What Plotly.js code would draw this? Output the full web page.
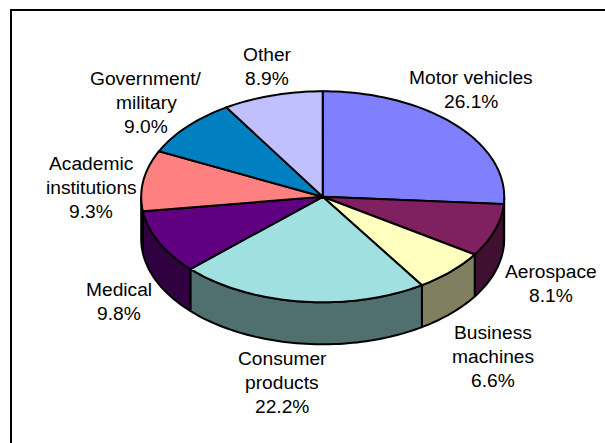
<!DOCTYPE html>
<html>
<head>
<meta charset="utf-8">
<script src="https://cdn.plot.ly/plotly-3.0.1.min.js"></script>
<style>html,body{margin:0;padding:0;background:#fff;overflow:hidden}#c{width:605px;height:443px}</style>
</head>
<body>
<div id="c"></div>
<script>
// Data
var categories = ["Motor vehicles","Aerospace","Business machines","Consumer products","Medical","Academic institutions","Government/ military","Other"];
var shares = [26.1, 8.1, 6.6, 22.2, 9.8, 9.3, 9.0, 8.9];
var topColors = ["#8080FF","#802060","#FFFFC0","#A0E0E0","#600080","#FF8080","#0080C0","#C0C0FF"];
var sideColors = ["#404080","#401030","#808060","#507070","#300040","#804040","#004060","#606080"];

// Label layout: how each category name wraps, plus centre x / first-line y
var labelLines = [["Motor vehicles"],["Aerospace"],["Business","machines"],["Consumer","products"],["Medical"],["Academic","institutions"],["Government/","military"],["Other"]];
var labelX = [470.5, 551, 493, 282, 119, 91, 146, 267];
var labelY = [77, 271, 332, 358, 289, 163, 78, 54];

var CX = 322.7, CY = 196.8, RX = 181.5, RY = 105.5, DEPTH = 42, LINE_H = 24.2;

function arc(a0, a1, dy) {
  var n = Math.max(2, Math.ceil((a1 - a0) / 1.5)), xs = [], ys = [];
  for (var i = 0; i <= n; i++) {
    var t = (a0 + (a1 - a0) * i / n) * Math.PI / 180;
    xs.push(CX + RX * Math.sin(t));
    ys.push(CY - RY * Math.cos(t) + dy);
  }
  return {x: xs, y: ys};
}
function poly(x, y, color) {
  return {type:"scatter", mode:"lines", x:x, y:y, fill:"toself", fillcolor:color,
          line:{color:"#000", width:2, simplify:false}, hoverinfo:"skip", showlegend:false};
}

var total = shares.reduce(function(a,b){return a+b;},0), traces = [], tops = [], ann = [], cum = 0;
shares.forEach(function(v, i) {
  var a0 = cum / total * 360, a1 = (cum + v) / total * 360;
  cum += v;
  var s0 = Math.max(a0, 90), s1 = Math.min(a1, 270);
  if (s1 > s0) {
    var up = arc(s0, s1, 0), low = arc(s0, s1, DEPTH);
    traces.push(poly(up.x.concat(low.x.slice().reverse(), up.x[0]),
                     up.y.concat(low.y.slice().reverse(), up.y[0]), sideColors[i]));
  }
  var t = arc(a0, a1, 0);
  tops.push(poly([CX].concat(t.x, CX), [CY].concat(t.y, CY), topColors[i]));
  labelLines[i].concat(v.toFixed(1) + "%").forEach(function(txt, k) {
    ann.push({x:labelX[i], y:labelY[i] + k * LINE_H, xref:"x", yref:"y", text:txt, showarrow:false,
              xanchor:"center", yanchor:"middle", font:{family:"Liberation Sans, Arial, sans-serif", size:19.2, color:"#000"}});
  });
});

Plotly.newPlot("c", traces.concat(tops), {
  width:605, height:443, margin:{l:0,r:0,t:0,b:0}, paper_bgcolor:"#fff", plot_bgcolor:"#fff", showlegend:false,
  xaxis:{range:[0,605], visible:false, fixedrange:true},
  yaxis:{range:[443,0], visible:false, fixedrange:true},
  annotations:ann,
  shapes:[
    {type:"line", xref:"x", yref:"y", x0:10, x1:605, y0:10, y1:10, line:{color:"#000", width:2}},
    {type:"line", xref:"x", yref:"y", x0:11, x1:11, y0:9, y1:443, line:{color:"#000", width:2}}
  ]
}, {displayModeBar:false, staticPlot:true});
</script>
</body>
</html>
